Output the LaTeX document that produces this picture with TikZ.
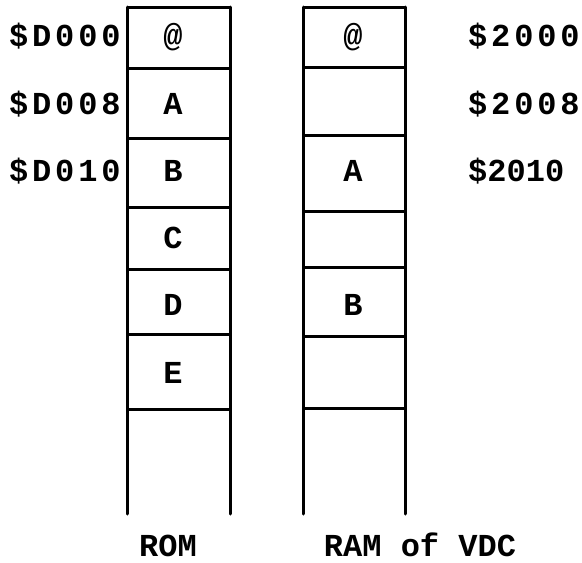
\documentclass[tikz,border=0pt]{standalone}
\usepackage{fontspec}
\newfontfamily\memfont{Liberation Mono}
\newfontfamily\memfontwide[LetterSpace=12]{Liberation Mono}
\begin{document}
\begin{tikzpicture}[x=1pt,y=-1pt,
  wall/.style={line width=3pt,line cap=round},
  cellsep/.style={line width=3pt},
  addr/.style={inner sep=0pt,anchor=base west,font=\memfontwide\bfseries\fontsize{32}{36}\selectfont},
  addrplain/.style={inner sep=0pt,anchor=base west,font=\memfont\bfseries\fontsize{32}{36}\selectfont},
  cellval/.style={inner sep=0pt,anchor=base,font=\memfont\bfseries\fontsize{32}{36}\selectfont},
  caption/.style={inner sep=0pt,anchor=base,font=\memfont\bfseries\fontsize{32}{36}\selectfont}]
\useasboundingbox (0,0) rectangle (582,563);

% ROM column
\coordinate (romTL) at (127,7);
\coordinate (romTR) at (230,7);
\coordinate (romBL) at (127,514);
\coordinate (romBR) at (230,514);
\draw[wall] (romTL) -- (romBL);
\draw[wall] (romTR) -- (romBR);
\foreach \y in {7,68,138,207,269,334,409}
  \draw[cellsep] (127,\y) -- (230,\y);

% RAM column
\coordinate (ramTL) at (303,7);
\coordinate (ramTR) at (405,7);
\coordinate (ramBL) at (303,514);
\coordinate (ramBR) at (405,514);
\draw[wall] (ramTL) -- (ramBL);
\draw[wall] (ramTR) -- (ramBR);
\foreach \y in {7,67,135,211,267,336,408}
  \draw[cellsep] (303,\y) -- (405,\y);

% ROM addresses
\node[addr] (rom0) at (9,46) {\$D000};
\node[addr] (rom8) at (9,114) {\$D008};
\node[addr] (rom10) at (9,181) {\$D010};

% ROM contents
\node[cellval] (romAt) at (173,46) {@};
\node[cellval] (romA) at (173,114) {A};
\node[cellval] (romB) at (173,181) {B};
\node[cellval] (romC) at (173,248) {C};
\node[cellval] (romD) at (173,315) {D};
\node[cellval] (romE) at (173,383) {E};

% RAM contents
\node[cellval] (ramAt) at (353,46) {@};
\node[cellval] (ramA) at (353,181) {A};
\node[cellval] (ramB) at (353,315) {B};

% RAM addresses
\node[addr] (ram0) at (468,46) {\$2000};
\node[addr] (ram8) at (468,114) {\$2008};
\node[addrplain] (ram10) at (468,181) {\$2010};

% captions
\node[caption] (romcap) at (168,556) {ROM};
\node[caption] (ramcap) at (420,556) {RAM of VDC};
\end{tikzpicture}
\end{document}
